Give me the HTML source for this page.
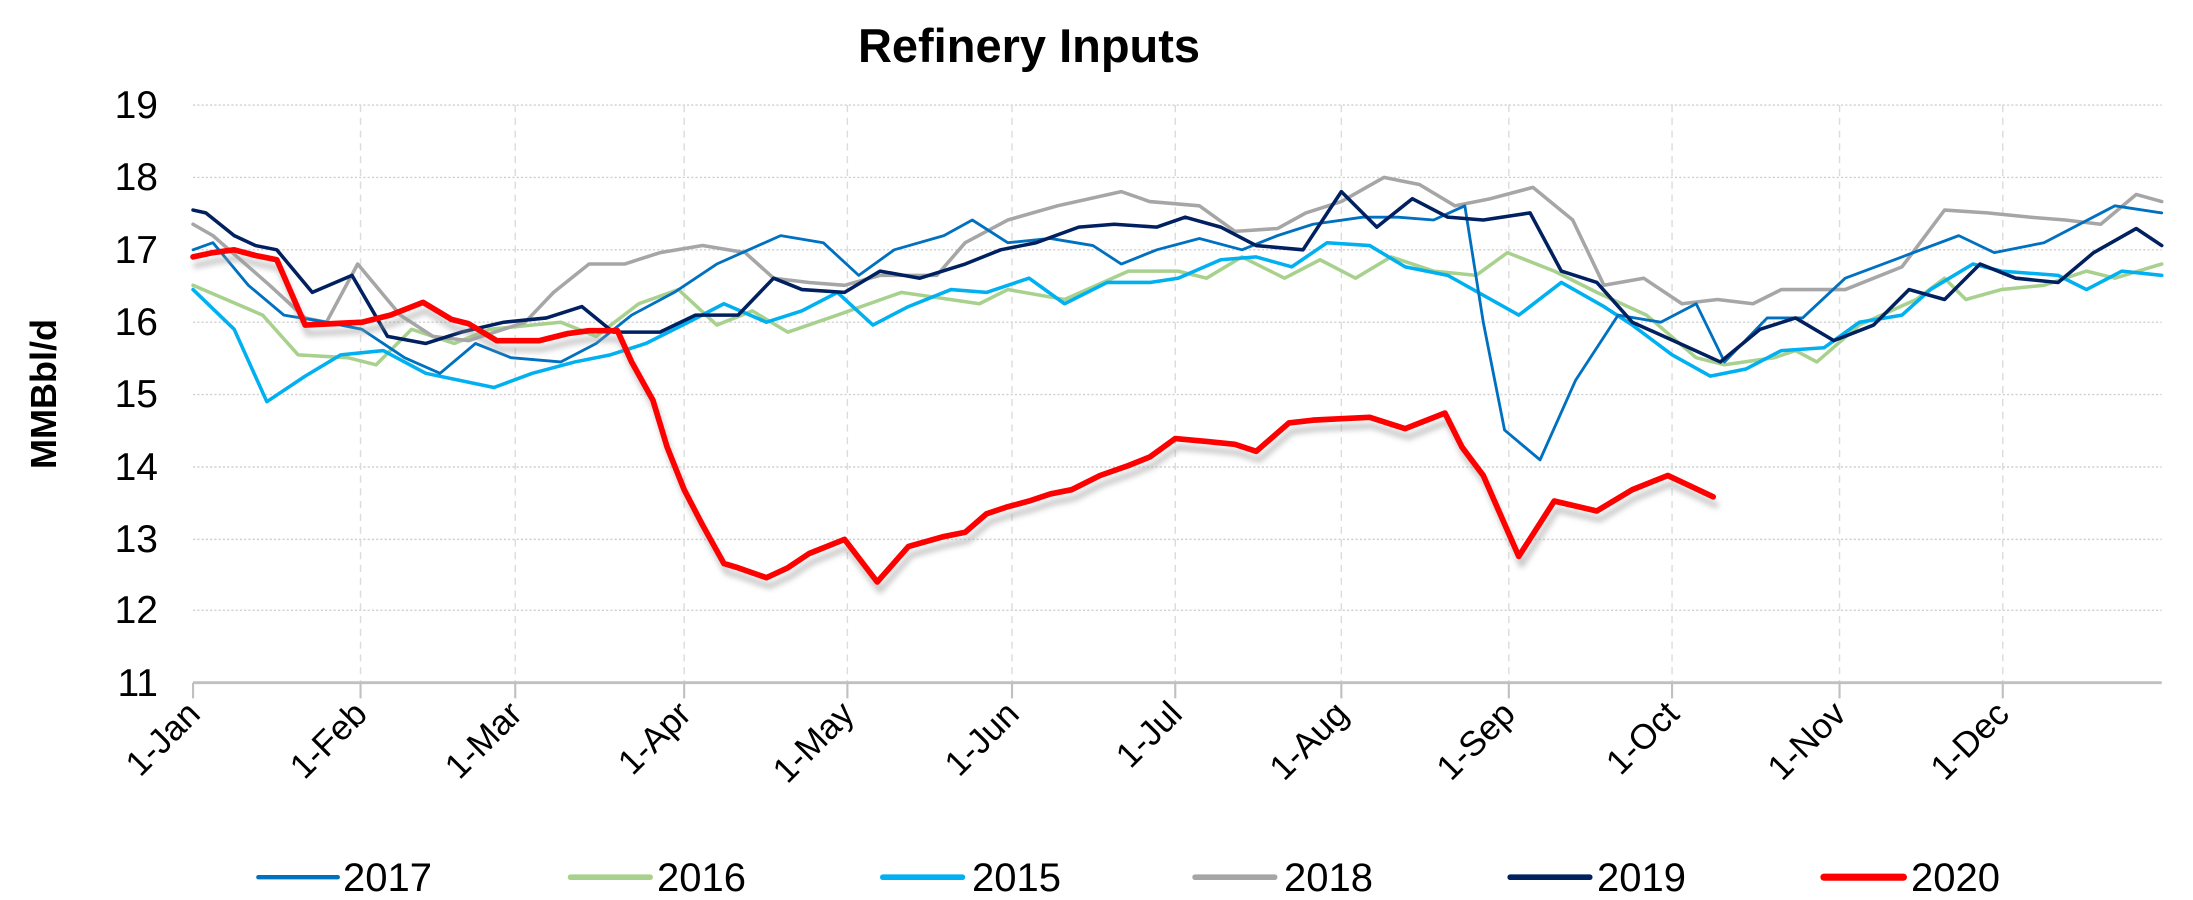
<!DOCTYPE html>
<html><head><meta charset="utf-8"><style>
html,body{margin:0;padding:0;background:#fff;}
svg{display:block;font-family:"Liberation Sans Narrow","Liberation Sans",sans-serif;}
</style></head><body>
<svg width="2193" height="900" viewBox="0 0 2193 900" xmlns="http://www.w3.org/2000/svg">
<defs><filter id="sh" x="-5%" y="-5%" width="110%" height="120%"><feGaussianBlur stdDeviation="2"/></filter></defs>
<rect width="2193" height="900" fill="#fff"/>
<text x="1029" y="62" font-size="47" font-weight="bold" text-anchor="middle" font-family="Liberation Sans Narrow, Liberation Sans, sans-serif">Refinery Inputs</text>
<g transform="scale(1.4194)">
 <g stroke="#d0d0d0" stroke-width="1" stroke-dasharray="1.5,1.5" fill="none">
  <line x1="136" x2="1523" y1="74" y2="74"/><line x1="136" x2="1523" y1="125" y2="125"/>
  <line x1="136" x2="1523" y1="176" y2="176"/><line x1="136" x2="1523" y1="227" y2="227"/>
  <line x1="136" x2="1523" y1="278" y2="278"/><line x1="136" x2="1523" y1="329" y2="329"/>
  <line x1="136" x2="1523" y1="380" y2="380"/><line x1="136" x2="1523" y1="430" y2="430"/>
 </g>
 <g stroke="#dcdcdc" stroke-width="1" stroke-dasharray="5,4" fill="none">
  <line x1="254" x2="254" y1="74" y2="481"/><line x1="363" x2="363" y1="74" y2="481"/>
  <line x1="482" x2="482" y1="74" y2="481"/><line x1="597" x2="597" y1="74" y2="481"/>
  <line x1="713" x2="713" y1="74" y2="481"/><line x1="828" x2="828" y1="74" y2="481"/>
  <line x1="945" x2="945" y1="74" y2="481"/><line x1="1063" x2="1063" y1="74" y2="481"/>
  <line x1="1178" x2="1178" y1="74" y2="481"/><line x1="1296" x2="1296" y1="74" y2="481"/>
  <line x1="1411" x2="1411" y1="74" y2="481"/>
 </g>
 <g stroke="#c0c0c0" stroke-width="1.5" fill="none">
  <line x1="136" x2="1523" y1="481" y2="481" stroke-width="2"/>
  <line x1="136" x2="136" y1="481" y2="492"/><line x1="254" x2="254" y1="481" y2="492"/>
  <line x1="363" x2="363" y1="481" y2="492"/><line x1="482" x2="482" y1="481" y2="492"/>
  <line x1="597" x2="597" y1="481" y2="492"/><line x1="713" x2="713" y1="481" y2="492"/>
  <line x1="828" x2="828" y1="481" y2="492"/><line x1="945" x2="945" y1="481" y2="492"/>
  <line x1="1063" x2="1063" y1="481" y2="492"/><line x1="1178" x2="1178" y1="481" y2="492"/>
  <line x1="1296" x2="1296" y1="481" y2="492"/><line x1="1411" x2="1411" y1="481" y2="492"/>
 </g>
 <g fill="none" stroke-linejoin="round" stroke-linecap="round">
 <polyline stroke="#A9D18E" stroke-width="2.5" points="136,201 185,222 210,250 245,252 265,257 290,232 320,242 345,232 395,227 420,237 450,214 478,204 505,229 530,219 555,234 590,222 635,206 690,214 710,204 750,211 795,191 830,191 850,196 875,181 905,196 930,183 955,196 980,181 1010,191 1040,194 1062,178 1095,191 1125,206 1160,222 1195,252 1215,257 1250,252 1265,247 1280,255 1310,229 1350,211 1370,196 1385,211 1410,204 1440,201 1470,191 1490,196 1523,186"/>
 <polyline stroke="#00B0F0" stroke-width="2.5" points="136,204 165,232 188,283 215,265 240,250 270,247 300,263 348,273 375,263 405,255 430,250 455,242 485,227 510,214 540,227 565,219 590,206 615,229 640,216 670,204 695,206 725,196 750,214 780,199 810,199 830,196 860,183 885,181 910,188 935,171 965,173 990,188 1020,194 1070,222 1100,199 1130,216 1150,229 1178,250 1205,265 1230,260 1255,247 1285,245 1310,227 1340,222 1360,204 1390,186 1410,191 1450,194 1470,204 1495,191 1523,194"/>
 <polyline stroke="#A6A6A6" stroke-width="2.5" points="136,158 150,166 190,201 215,224 230,227 252,186 282,222 305,237 330,240 370,227 390,206 415,186 440,186 465,178 495,173 525,178 545,196 570,199 595,201 620,194 660,194 680,171 710,155 745,145 790,135 810,142 845,145 870,163 900,161 920,150 945,142 975,125 1000,130 1025,145 1050,140 1080,132 1108,155 1130,201 1158,196 1185,214 1210,211 1235,214 1255,204 1300,204 1340,188 1370,148 1400,150 1430,153 1455,155 1480,158 1505,137 1523,142"/>
 <polyline stroke="#0070C0" stroke-width="2" points="136,176 150,171 175,201 200,222 230,227 255,232 285,252 310,263 335,242 360,252 395,255 420,242 445,222 475,206 505,186 550,166 580,171 605,194 630,176 665,166 685,155 710,171 740,168 770,173 790,186 815,176 845,168 875,176 900,166 925,158 960,153 985,153 1010,155 1032,145 1045,227 1060,303 1085,324 1110,268 1140,222 1170,227 1195,214 1215,255 1245,224 1270,224 1300,196 1340,181 1380,166 1405,178 1440,171 1490,145 1523,150"/>
 <polyline stroke="#002060" stroke-width="2.5" points="136,148 145,150 165,166 180,173 195,176 220,206 248,194 273,237 300,242 325,234 355,227 385,224 410,216 432,234 465,234 490,222 520,222 545,196 565,204 595,206 620,191 648,196 680,186 705,176 730,171 760,160 785,158 815,160 835,153 860,160 885,173 918,176 945,135 970,160 995,140 1020,153 1045,155 1078,150 1100,191 1125,199 1150,227 1190,245 1212,255 1240,232 1265,224 1292,240 1320,229 1345,204 1370,211 1395,186 1420,196 1450,199 1475,178 1505,161 1523,173"/>
 <polyline stroke="#999" stroke-width="4" opacity="0.55" filter="url(#sh)" transform="translate(2,6)" points="136,181 150,178 165,176 180,180 195,183 215,229 235,228 255,227 275,222 298,213 318,225 330,228 350,240 380,240 400,235 415,233 435,233 445,255 460,282 470,315 482,345 495,370 510,397 520,400 540,407 555,400 570,390 595,380 618,410 640,385 665,378 680,375 695,362 710,357 725,353 740,348 755,345 775,335 795,328 810,322 828,309 850,311 870,313 885,318 908,298 925,296 945,295 965,294 990,302 1018,291 1030,315 1045,335 1070,392 1095,353 1125,360 1150,345 1175,335 1190,342 1207,350"/>
 <polyline stroke="#FF0000" stroke-width="4" points="136,181 150,178 165,176 180,180 195,183 215,229 235,228 255,227 275,222 298,213 318,225 330,228 350,240 380,240 400,235 415,233 435,233 445,255 460,282 470,315 482,345 495,370 510,397 520,400 540,407 555,400 570,390 595,380 618,410 640,385 665,378 680,375 695,362 710,357 725,353 740,348 755,345 775,335 795,328 810,322 828,309 850,311 870,313 885,318 908,298 925,296 945,295 965,294 990,302 1018,291 1030,315 1045,335 1070,392 1095,353 1125,360 1150,345 1175,335 1190,342 1207,350"/>
 </g>
 <g stroke-width="4" stroke-linecap="round">
  <line x1="182" x2="238" y1="618" y2="618" stroke="#0070C0" stroke-width="3"/>
  <line x1="402" x2="458" y1="618" y2="618" stroke="#A9D18E"/>
  <line x1="622" x2="678" y1="618" y2="618" stroke="#00B0F0"/>
  <line x1="842" x2="898" y1="618" y2="618" stroke="#A6A6A6"/>
  <line x1="1064" x2="1120" y1="618" y2="618" stroke="#002060"/>
  <line x1="1285" x2="1341" y1="618" y2="618" stroke="#FF0000" stroke-width="5"/>
 </g>
</g>
<g font-size="39" text-anchor="end">
 <text x="158" y="118">19</text><text x="158" y="190">18</text><text x="158" y="263">17</text>
 <text x="158" y="335">16</text><text x="158" y="407">15</text><text x="158" y="480">14</text>
 <text x="158" y="552">13</text><text x="158" y="623">12</text><text x="158" y="696">11</text>
</g>
<text transform="translate(56,394) rotate(-90)" font-size="36" font-weight="bold" text-anchor="middle" font-family="Liberation Sans, sans-serif">MMBbl/d</text>
<g font-size="35" text-anchor="end">
 <text transform="translate(202,716) rotate(-45)">1-Jan</text>
 <text transform="translate(369,716) rotate(-45)">1-Feb</text>
 <text transform="translate(524,716) rotate(-45)">1-Mar</text>
 <text transform="translate(693,716) rotate(-45)">1-Apr</text>
 <text transform="translate(856,716) rotate(-45)">1-May</text>
 <text transform="translate(1021,716) rotate(-45)">1-Jun</text>
 <text transform="translate(1184,716) rotate(-45)">1-Jul</text>
 <text transform="translate(1350,716) rotate(-45)">1-Aug</text>
 <text transform="translate(1517,716) rotate(-45)">1-Sep</text>
 <text transform="translate(1681,716) rotate(-45)">1-Oct</text>
 <text transform="translate(1848,716) rotate(-45)">1-Nov</text>
 <text transform="translate(2011,716) rotate(-45)">1-Dec</text>
</g>
<g font-size="40">
 <text x="343" y="891">2017</text><text x="657" y="891">2016</text><text x="972" y="891">2015</text>
 <text x="1284" y="891">2018</text><text x="1597" y="891">2019</text><text x="1911" y="891">2020</text>
</g>
</svg>
</body></html>
